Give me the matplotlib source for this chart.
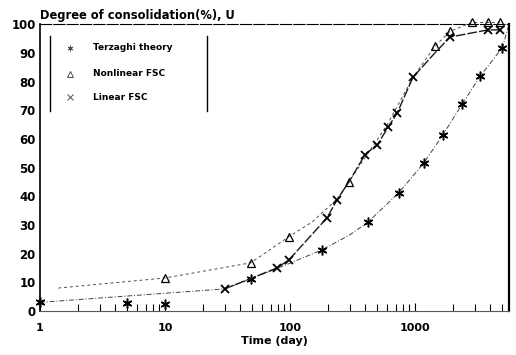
import numpy as np
import matplotlib.pyplot as plt
from matplotlib.lines import Line2D

# values (time in days, U in %)
t_terz = [1, 30, 48.6, 98, 180, 300, 421, 745, 1180, 1675, 2377, 3311, 5000, 5650]
u_terz = [3, 7.7, 11.2, 16.5, 21.3, 26.5, 31, 41.3, 51.7, 61.5, 72, 81.8, 91.8, 100]
t_terz_mk = [1, 5, 10, 48.6, 180, 421, 745, 1180, 1675, 2377, 3311, 5000]
u_terz_mk = [3, 2.8, 2.5, 11.2, 21.3, 31, 41.3, 51.7, 61.5, 72, 81.8, 91.8]

t_nonlin = [1.4, 10, 48.6, 98, 150, 238, 296, 600, 964, 1445, 1905, 2858, 3837, 4786]
u_nonlin = [8, 11.5, 16.8, 25.9, 31, 39, 45, 65, 81.5, 92.3, 97.5, 100.6, 100.6, 100.6]
t_nonlin_mk = [10, 48.6, 98, 296, 1445, 1905, 2858, 3837, 4786]
u_nonlin_mk = [11.5, 16.8, 25.9, 45, 92.3, 97.5, 100.6, 100.6, 100.6]

t_lin = [30, 78.7, 98, 198, 238, 296, 398, 500, 608, 720, 964, 1445, 1905, 3837, 4786]
u_lin = [7.7, 15, 17.8, 32.5, 38.8, 45, 54.5, 58, 64, 69, 81.5, 90, 95.5, 98, 98]
t_lin_mk = [30, 78.7, 98, 198, 238, 398, 500, 608, 720, 964, 1905, 3837, 4786]
u_lin_mk = [7.7, 15, 17.8, 32.5, 38.8, 54.5, 58, 64, 69, 81.5, 95.5, 98, 98]

yticks = [0, 10, 20, 30, 40, 50, 60, 70, 80, 90, 100]
labels = ['Terzaghi theory', 'Nonlinear FSC', 'Linear FSC']

plt.rcParams['font.family'] = 'DejaVu Sans'
plt.rcParams['font.weight'] = 'bold'

fig = plt.figure(figsize=(5.16, 3.55), dpi=100)
ax = fig.add_axes([0.0775, 0.124, 0.909, 0.808])

ax.plot(t_terz, u_terz, color='0.25', lw=0.7, ls=(0, (5, 2, 1, 2)))
ax.plot(t_terz_mk, u_terz_mk, ls='none', marker=(6, 2, 0), ms=7, mew=1.1, color='k', clip_on=False)

ax.plot(t_nonlin, u_nonlin, color='0.3', lw=0.7, ls=(0, (3, 3)), clip_on=False)
ax.plot(t_nonlin_mk, u_nonlin_mk, ls='none', marker='^', ms=5.5, mfc='none', mec='k', mew=0.9, clip_on=False)

ax.plot(t_lin, u_lin, color='0.1', lw=1.0, ls=(0, (7, 1.5)))
ax.plot(t_lin_mk, u_lin_mk, ls='none', marker='x', ms=5.5, mew=1.3, color='k', clip_on=False)

ax.set_xscale('log')
ax.set_xlim(1, 5650)
ax.set_ylim(0, 100)
ax.set_yticks(yticks)
ax.set_xticks([1, 10, 100, 1000])
ax.set_xticklabels(['1', '10', '100', '1000'])
ax.tick_params(axis='x', which='major', direction='in', length=6, width=0.8, pad=9, labelsize=8)
ax.tick_params(axis='x', which='minor', direction='in', length=5, width=0.8)
ax.tick_params(axis='y', length=0, pad=3, labelsize=8.5)
for lab in ax.get_xticklabels() + ax.get_yticklabels():
    lab.set_fontweight('bold')

ax.spines['left'].set_linewidth(1.2)
ax.spines['right'].set_linewidth(1.6)
ax.spines['top'].set_linewidth(0.8)
ax.spines['top'].set_linestyle((0, (10, 2)))
ax.spines['bottom'].set_linewidth(0.8)
ax.spines['bottom'].set_color('0.35')

fig.text(0.0775, 0.975, 'Degree of consolidation(%), U', fontsize=8.3, fontweight='bold', va='top', ha='left')
ax.set_xlabel('Time (day)', fontsize=8, fontweight='bold', labelpad=2)

# hand-drawn style legend box (two vertical bars)
fig.add_artist(Line2D([50/516, 50/516], [1-36/355, 1-111/355], color='k', lw=1))
fig.add_artist(Line2D([207/516, 207/516], [1-36/355, 1-111/355], color='k', lw=1))
leg_y = [48, 74, 97]
leg_mk = [(6, 2, 0), '^', 'x']
for lab, yy, mk in zip(labels, leg_y, leg_mk):
    fy = 1 - yy / 355
    fig.add_artist(Line2D([70/516], [fy], marker=mk, ms=4, color='0.3', mfc='none', mew=0.7, ls='none'))
    fig.text(93/516, fy, lab, fontsize=6.5, fontweight='bold', va='center', ha='left')

fig.savefig('out.png', dpi=100)
